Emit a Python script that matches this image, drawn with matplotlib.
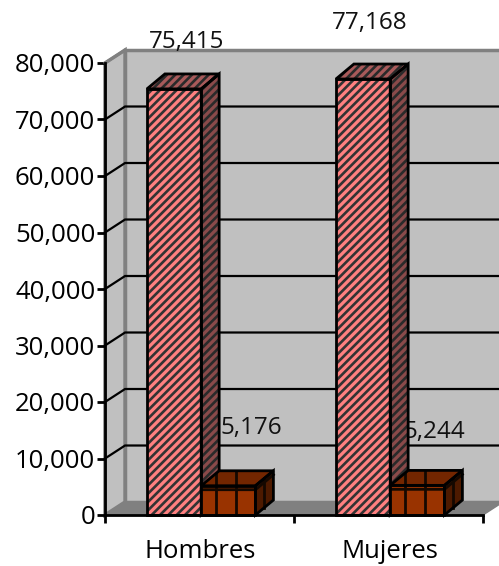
import matplotlib
matplotlib.use('Agg')
from matplotlib import pyplot as plt
from matplotlib.patches import Polygon

plt.rcParams['font.family'] = ['Open Sans', 'DejaVu Sans']
plt.rcParams['hatch.linewidth'] = 1.9

categories = ['Hombres', 'Mujeres']
serie_a = [75415, 77168]
serie_b = [5176, 5244]
yticks = [0, 10000, 20000, 30000, 40000, 50000, 60000, 70000, 80000]

W, H = 499, 566
fig = plt.figure(figsize=(W / 100, H / 100), dpi=100, facecolor='white')
ax = fig.add_axes([105 / W, 1 - 515 / H, 378 / W, 452 / H])
ax.set_xlim(0, 2)
ax.set_ylim(0, 80000)
ax.patch.set_visible(False)

# profundidad del efecto 3D, en unidades de datos
wall_dx, wall_dy = 0.106, 2300
bar_dx, bar_dy = 0.095, 2650
bar_w = 0.287


def poly(pts, z, **kw):
    p = Polygon(pts, closed=True, clip_on=False, zorder=z, **kw)
    ax.add_patch(p)
    return p


# paredes y piso
xr = 2 + wall_dx
poly([(wall_dx, wall_dy), (xr, wall_dy), (xr, 80000 + wall_dy), (wall_dx, 80000 + wall_dy)], 1,
     fc='#c0c0c0', ec='#808080', lw=2.5)
poly([(0, 0), (wall_dx, wall_dy), (wall_dx, 80000 + wall_dy), (0, 80000)], 1,
     fc='#c0c0c0', ec='#808080', lw=2.5)
poly([(0, 0), (2, 0), (xr, wall_dy), (wall_dx, wall_dy)], 1.5, fc='#808080', ec='#808080', lw=1)

# lineas de la reticula
for v in yticks[1:-1]:
    ax.plot([0, wall_dx, xr], [v, v + wall_dy, v + wall_dy], color='black', lw=1.6, zorder=2,
            clip_on=False, solid_joinstyle='miter')
ax.plot([0, wall_dx], [80000, 80000 + wall_dy], color='#808080', lw=2, zorder=2, clip_on=False)


def faces(x0, v):
    x1 = x0 + bar_w
    front = [(x0, 0), (x1, 0), (x1, v), (x0, v)]
    side = [(x1, 0), (x1 + bar_dx, bar_dy), (x1 + bar_dx, v + bar_dy), (x1, v)]
    top = [(x0, v), (x1, v), (x1 + bar_dx, v + bar_dy), (x0 + bar_dx, v + bar_dy)]
    return front, side, top


def bar_rayas(x0, v, z):
    front, side, top = faces(x0, v)
    for pts, fc, hc in ((side, '#8a4a4a', '#2a2a2a'), (top, '#a85a5a', '#2a2a2a'), (front, '#ff8080', '#333333')):
        poly(pts, z, fc=fc, ec=hc, hatch='////', lw=0)
        poly(pts, z + 0.1, fc='none', ec='black', lw=2, joinstyle='miter')


def bar_ladrillo(x0, v, z):
    front, side, top = faces(x0, v)
    x1 = x0 + bar_w
    lc = '#140800'
    poly(front, z, fc='#993300', lw=0)
    poly(side, z, fc='#4d1a00', lw=0)
    p_t = poly(top, z, fc='#732600', lw=0)
    # reticula de ladrillo dibujada sobre cada cara
    for f in (0.27, 0.65):
        xf = x0 + f * bar_w
        ax.plot([xf, xf], [0, v], color=lc, lw=2, zorder=z + 0.05, clip_on=False)
        l = ax.plot([xf, xf], [v, v + bar_dy], color=lc, lw=2, zorder=z + 0.05)[0]
        l.set_clip_path(p_t)
    ax.plot([x0, x1, x1 + bar_dx], [v - 700, v - 700, v - 700 + bar_dy], color=lc, lw=2,
            zorder=z + 0.05, clip_on=False)
    ax.plot([x1 + bar_dx / 2, x1 + bar_dx / 2], [bar_dy / 2, v + bar_dy / 2], color=lc, lw=2,
            zorder=z + 0.05, clip_on=False)
    for pts in (side, top, front):
        poly(pts, z + 0.1, fc='none', ec='black', lw=2, joinstyle='miter')


label_size = 17.5
offs_a = [(12, 47), (7, 56)]
offs_b = [(23, 58), (17, 53)]
for i, cat in enumerate(categories):
    x_a = i + 0.222
    x_b = x_a + bar_w
    # las etiquetas quedan detras de las barras
    ax.annotate(f'{serie_a[i]:,}', (x_a + bar_w / 2, serie_a[i]), xytext=offs_a[i],
                textcoords='offset pixels', ha='center', va='center', fontsize=label_size, zorder=3,
                annotation_clip=False, color='#111111')
    ax.annotate(f'{serie_b[i]:,}', (x_b + bar_w / 2, serie_b[i]), xytext=offs_b[i],
                textcoords='offset pixels', ha='center', va='center', fontsize=label_size, zorder=3,
                annotation_clip=False, color='#111111')
    bar_rayas(x_a, serie_a[i], 4)
    bar_ladrillo(x_b, serie_b[i], 5)

ax.set_yticks(yticks)
ax.set_yticklabels([f'{v:,}' for v in yticks], fontsize=18.5)
ax.set_xticks([0, 1, 2])
ax.set_xticklabels([])
ax.set_xticks([0.505, 1.505], minor=True)
ax.set_xticklabels(categories, minor=True, fontsize=18.5)
ax.tick_params(axis='x', which='minor', length=0, pad=17)
ax.tick_params(axis='both', which='major', length=6, width=2, color='black', pad=1)

for s in ('top', 'right'):
    ax.spines[s].set_visible(False)
for s in ('left', 'bottom'):
    ax.spines[s].set_linewidth(2)
    ax.spines[s].set_zorder(8)

fig.savefig('out.png', dpi=100)
